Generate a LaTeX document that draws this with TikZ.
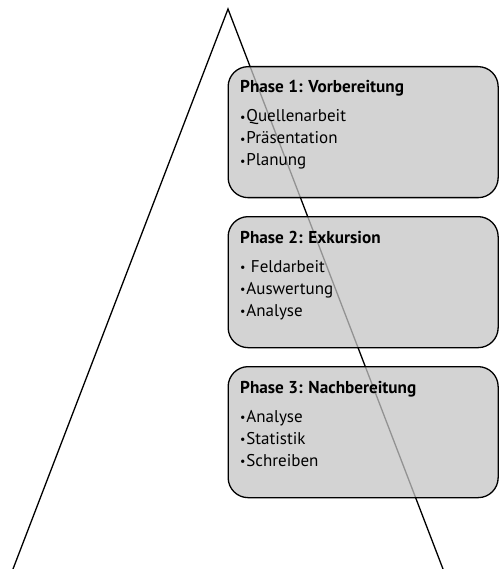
\documentclass[tikz,border=0pt]{standalone}
\usepackage{fontspec}
\setmainfont{PT Sans}
\newcommand{\bul}{{\fontsize{12}{12}\selectfont\raisebox{0.8pt}{•}}\kern0.8pt}
\begin{document}
\begin{tikzpicture}[x=1pt,y=-1pt,
  phasebox/.style={draw=black,line width=1.3pt,rounded corners=20pt,
    fill={rgb,255:red,196;green,196;blue,196},fill opacity=0.75,text opacity=1,
    minimum width=270pt,minimum height=131pt,anchor=north west,inner sep=0pt},
  phasetitle/.style={anchor=base west,inner sep=0pt,font=\fontsize{17.2}{20}\selectfont\bfseries},
  phaseitem/.style={anchor=base west,inner sep=0pt,font=\fontsize{17}{20}\selectfont}]
\useasboundingbox (0,0) rectangle (498,569);
% pyramid outline
\coordinate (apex) at (228,9);
\coordinate (baseL) at (13,569);
\coordinate (baseR) at (443,569);
\draw[line width=1.3pt,line join=miter] (baseL) -- (apex) -- (baseR);
% phase boxes
\node[phasebox] (p1) at (227.5,66) {};
\node[phasebox] (p2) at (227.5,216) {};
\node[phasebox] (p3) at (227.5,366) {};
% phase 1
\node[phasetitle] (t1) at (240,93) {Phase 1: Vorbereitung};
\node[phaseitem] (a1) at (240,122) {\bul Quellenarbeit};
\node[phaseitem] (b1) at (240,144) {\bul Präsentation};
\node[phaseitem] (c1) at (240,166) {\bul Planung};
% phase 2
\node[phasetitle] (t2) at (240,243) {Phase 2: Exkursion};
\node[phaseitem] (a2) at (240,272) {\bul\ Feldarbeit};
\node[phaseitem] (b2) at (240,294) {\bul Auswertung};
\node[phaseitem] (c2) at (240,316) {\bul Analyse};
% phase 3
\node[phasetitle] (t3) at (240,393) {Phase 3: Nachbereitung};
\node[phaseitem] (a3) at (240,422) {\bul Analyse};
\node[phaseitem] (b3) at (240,444) {\bul Statistik};
\node[phaseitem] (c3) at (240,466) {\bul Schreiben};
\end{tikzpicture}
\end{document}
